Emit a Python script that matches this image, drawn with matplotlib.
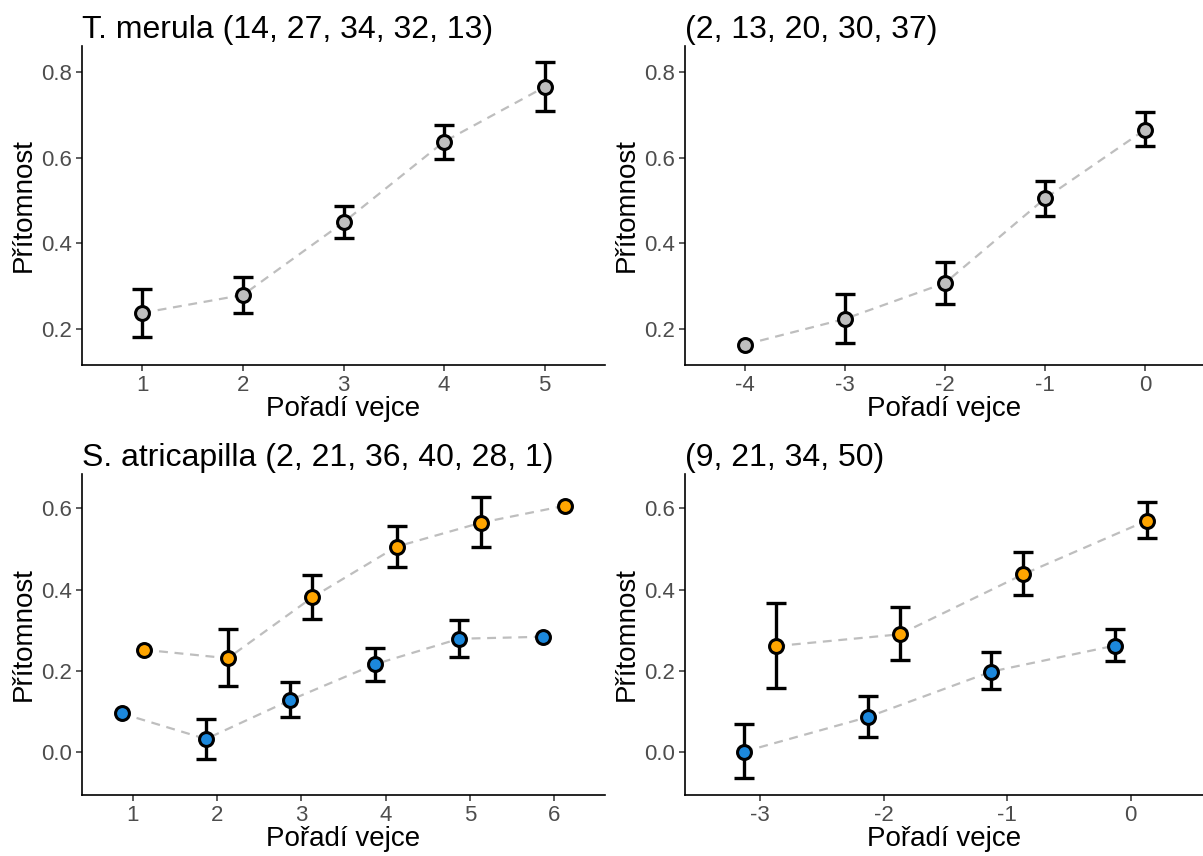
import matplotlib.pyplot as plt
import numpy as np

plt.rcParams['font.family'] = ['Liberation Sans', 'DejaVu Sans']
plt.rcParams['axes.unicode_minus'] = False

nan = np.nan

# T. merula, poradi od zacatku
tm_x = [1, 2, 3, 4, 5]
tm_y = [0.237, 0.279, 0.449, 0.638, 0.766]
tm_lo = [0.181, 0.237, 0.412, 0.597, 0.710]
tm_hi = [0.293, 0.322, 0.488, 0.678, 0.825]

# T. merula, poradi od konce
tm2_x = [-4, -3, -2, -1, 0]
tm2_y = [0.163, 0.223, 0.307, 0.505, 0.666]
tm2_lo = [nan, 0.167, 0.258, 0.463, 0.628]
tm2_hi = [nan, 0.281, 0.357, 0.547, 0.707]

# S. atricapilla, poradi od zacatku
sa_x = [1, 2, 3, 4, 5, 6]
sa_or_y = [0.252, 0.231, 0.381, 0.506, 0.565, 0.607]
sa_or_lo = [nan, 0.162, 0.327, 0.455, 0.506, nan]
sa_or_hi = [nan, 0.302, 0.436, 0.556, 0.629, nan]
sa_bl_y = [0.095, 0.032, 0.128, 0.216, 0.279, 0.284]
sa_bl_lo = [nan, -0.017, 0.087, 0.176, 0.235, nan]
sa_bl_hi = [nan, 0.081, 0.172, 0.257, 0.325, nan]

# S. atricapilla, poradi od konce
sa2_x = [-3, -2, -1, 0]
sa2_or_y = [0.261, 0.290, 0.438, 0.570]
sa2_or_lo = [0.157, 0.226, 0.387, 0.527]
sa2_or_hi = [0.366, 0.358, 0.492, 0.615]
sa2_bl_y = [0.001, 0.086, 0.198, 0.262]
sa2_bl_lo = [-0.065, 0.037, 0.155, 0.223]
sa2_bl_hi = [0.068, 0.138, 0.246, 0.303]

titles = ['T. merula (14, 27, 34, 32, 13)', '(2, 13, 20, 30, 37)',
          'S. atricapilla (2, 21, 36, 40, 28, 1)', '(9, 21, 34, 50)']

ORANGE = '#FFA500'
BLUE = '#1C88DC'
GREY = '#BEBEBE'
DODGE = 0.13

W, H = 1203, 856
fig = plt.figure(figsize=(W / 100, H / 100), dpi=100)


def make_ax(l, t, r, b):
    return fig.add_axes([l / W, 1 - b / H, (r - l) / W, (b - t) / H])


def series(ax, x, y, lo, hi, color):
    x = np.asarray(x, float)
    y = np.asarray(y, float)
    lo = np.asarray(lo, float)
    hi = np.asarray(hi, float)
    ax.plot(x, y, ls=(0, (4, 3)), color=GREY, lw=1.6, zorder=1)
    m = ~np.isnan(lo)
    ax.errorbar(x[m], y[m], yerr=[y[m] - lo[m], hi[m] - y[m]], fmt='none',
                ecolor='black', elinewidth=2.4, capsize=7.5, capthick=2.4, zorder=2)
    ax.plot(x, y, 'o', ms=10, mfc=color, mec='black', mew=2.2, zorder=3)


def style(ax, title, xlim, ylim, xticks, yticks):
    ax.set_xlim(*xlim)
    ax.set_ylim(*ylim)
    ax.set_xticks(xticks)
    ax.set_yticks(yticks)
    ax.set_yticklabels([f'{v:.1f}' for v in yticks])
    for s in ['top', 'right']:
        ax.spines[s].set_visible(False)
    for s in ['left', 'bottom']:
        ax.spines[s].set_linewidth(1.2)
    ax.tick_params(labelsize=16, labelcolor='#4D4D4D', color='#333333',
                   length=4, width=1.1, pad=3)
    ax.set_xlabel('Pořadí vejce', fontsize=20, labelpad=0)
    ax.set_ylabel('Přítomnost', fontsize=20, labelpad=3)
    ax.set_title(title, loc='left', fontsize=23, pad=6)


ax1 = make_ax(82, 46, 605, 365)
series(ax1, tm_x, tm_y, tm_lo, tm_hi, GREY)
style(ax1, titles[0], (0.4, 5.6), (0.115, 0.862), tm_x, [0.2, 0.4, 0.6, 0.8])

ax2 = make_ax(685, 46, 1203, 365)
series(ax2, tm2_x, tm2_y, tm2_lo, tm2_hi, GREY)
style(ax2, titles[1], (-4.6, 0.58), (0.115, 0.862), tm2_x, [0.2, 0.4, 0.6, 0.8])

ax3 = make_ax(82, 474, 605, 795)
series(ax3, np.array(sa_x) + DODGE, sa_or_y, sa_or_lo, sa_or_hi, ORANGE)
series(ax3, np.array(sa_x) - DODGE, sa_bl_y, sa_bl_lo, sa_bl_hi, BLUE)
style(ax3, titles[2], (0.4, 6.6), (-0.106, 0.685), sa_x, [0.0, 0.2, 0.4, 0.6])

ax4 = make_ax(685, 474, 1203, 795)
series(ax4, np.array(sa2_x) + DODGE, sa2_or_y, sa2_or_lo, sa2_or_hi, ORANGE)
series(ax4, np.array(sa2_x) - DODGE, sa2_bl_y, sa2_bl_lo, sa2_bl_hi, BLUE)
style(ax4, titles[3], (-3.61, 0.585), (-0.106, 0.685), sa2_x, [0.0, 0.2, 0.4, 0.6])

fig.savefig('out.png', dpi=100)
